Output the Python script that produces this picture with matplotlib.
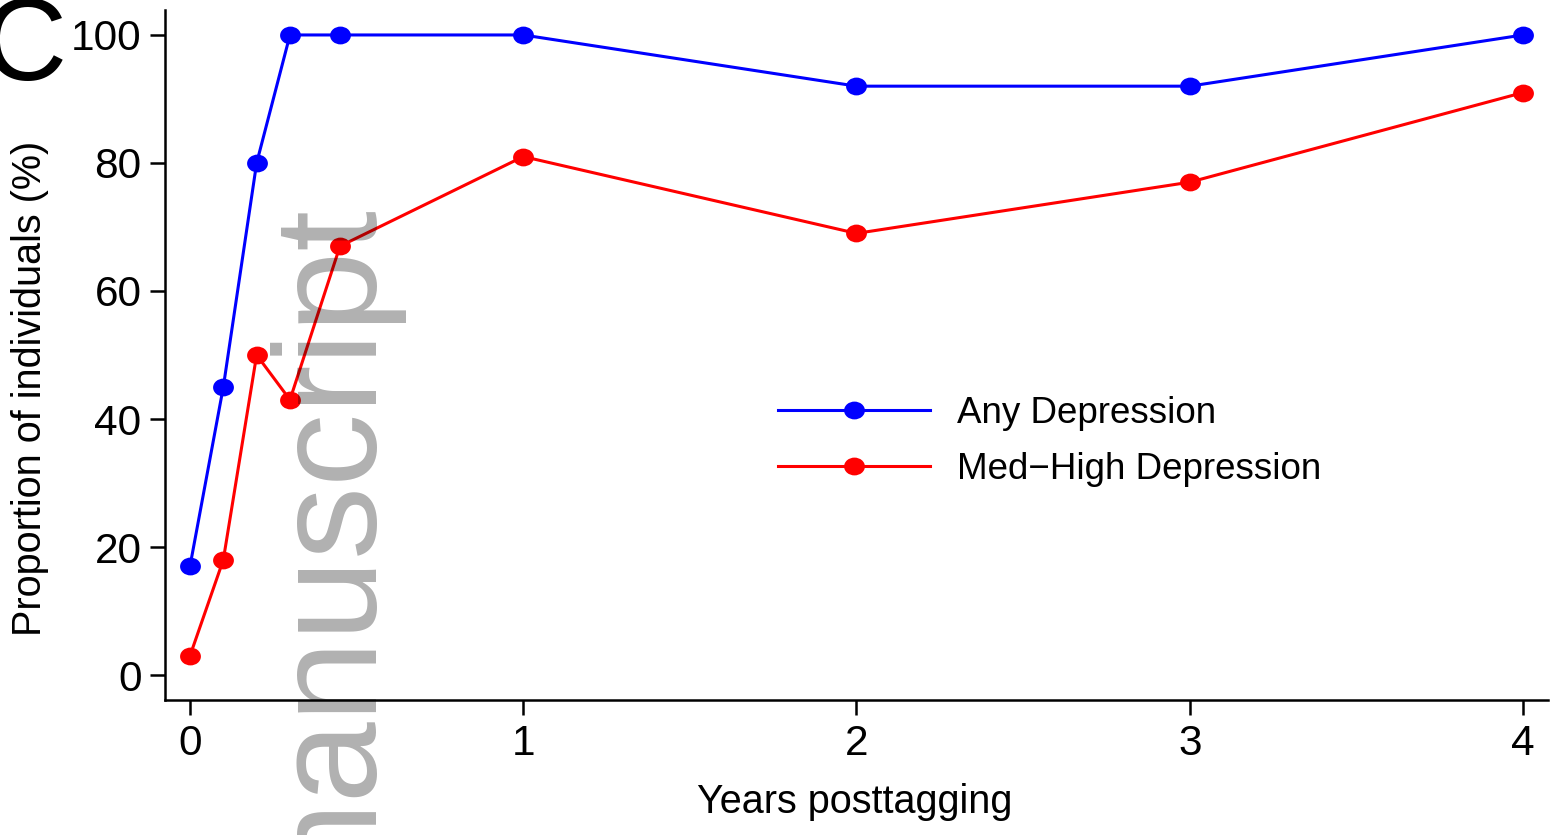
import matplotlib
matplotlib.use("Agg")
import matplotlib.pyplot as plt
from matplotlib.path import Path
from matplotlib.transforms import Affine2D

# Donnees
annees = [0, 0.1, 0.2, 0.3, 0.45, 1, 2, 3, 4]
any_depression = [17, 45, 80, 100, 100, 100, 92, 92, 100]
med_high_depression = [3, 18, 50, 43, 67, 81, 69, 77, 91]
noms_series = ["Any Depression", "Med\u2212High Depression"]
ticks_x = [0, 1, 2, 3, 4]
ticks_y = [0, 20, 40, 60, 80, 100]

plt.rcParams["font.family"] = ["Liberation Sans", "DejaVu Sans"]

W, H = 1551, 835

# Marqueur legerement ovale (image etiree)
ovale = Path.unit_circle().transformed(Affine2D().scale(1.17, 1.0))

fig = plt.figure(figsize=(W / 100, H / 100), dpi=100)
ax = fig.add_axes([165 / W, 1 - 700 / H, (1548 - 165) / W, (700 - 10) / H])

style = dict(lw=2.2, marker=ovale, markersize=15, markeredgewidth=0, zorder=3)
ax.plot(annees, any_depression, color="#0000ff", label=noms_series[0], **style)
ax.plot(annees, med_high_depression, color="#ff0000", label=noms_series[1], **style)

ax.set_xlim(-0.075, 4.075)
ax.set_ylim(-3.9, 103.9)
ax.set_xticks(ticks_x)
ax.set_yticks(ticks_y)
ax.spines["top"].set_visible(False)
ax.spines["right"].set_visible(False)
for s in ["left", "bottom"]:
    ax.spines[s].set_linewidth(1.8)
ax.tick_params(direction="out", length=11, width=1.8, labelsize=30.5, pad=6)

# Titres des axes
fig.text(855 / W, 1 - 813 / H, "Years posttagging", fontsize=28.5,
         ha="center", va="baseline")
fig.text(30 / W, 1 - 388 / H, "Proportion of individuals (%)", fontsize=28.5,
         rotation=90, ha="center", va="center")

leg = fig.legend(loc="center left", bbox_to_anchor=(778 / W, 1 - 441.5 / H),
                 frameon=False, fontsize=26.5, handlelength=4.13, handletextpad=0.73,
                 labelspacing=0.55, borderpad=0, borderaxespad=0)

# Lettre du panneau
fig.text(24 / W, 1 - 80 / H, "C", fontsize=84, ha="center", va="baseline")

# Filigrane (effet "multiply" : noir semi-transparent)
fig.text(367 / W, 1 - 200 / H, "manuscript", fontsize=105, rotation=90,
         rotation_mode="anchor", ha="right", va="baseline",
         color="black", alpha=0.31, zorder=10)

fig.savefig("out.png", dpi=100)
